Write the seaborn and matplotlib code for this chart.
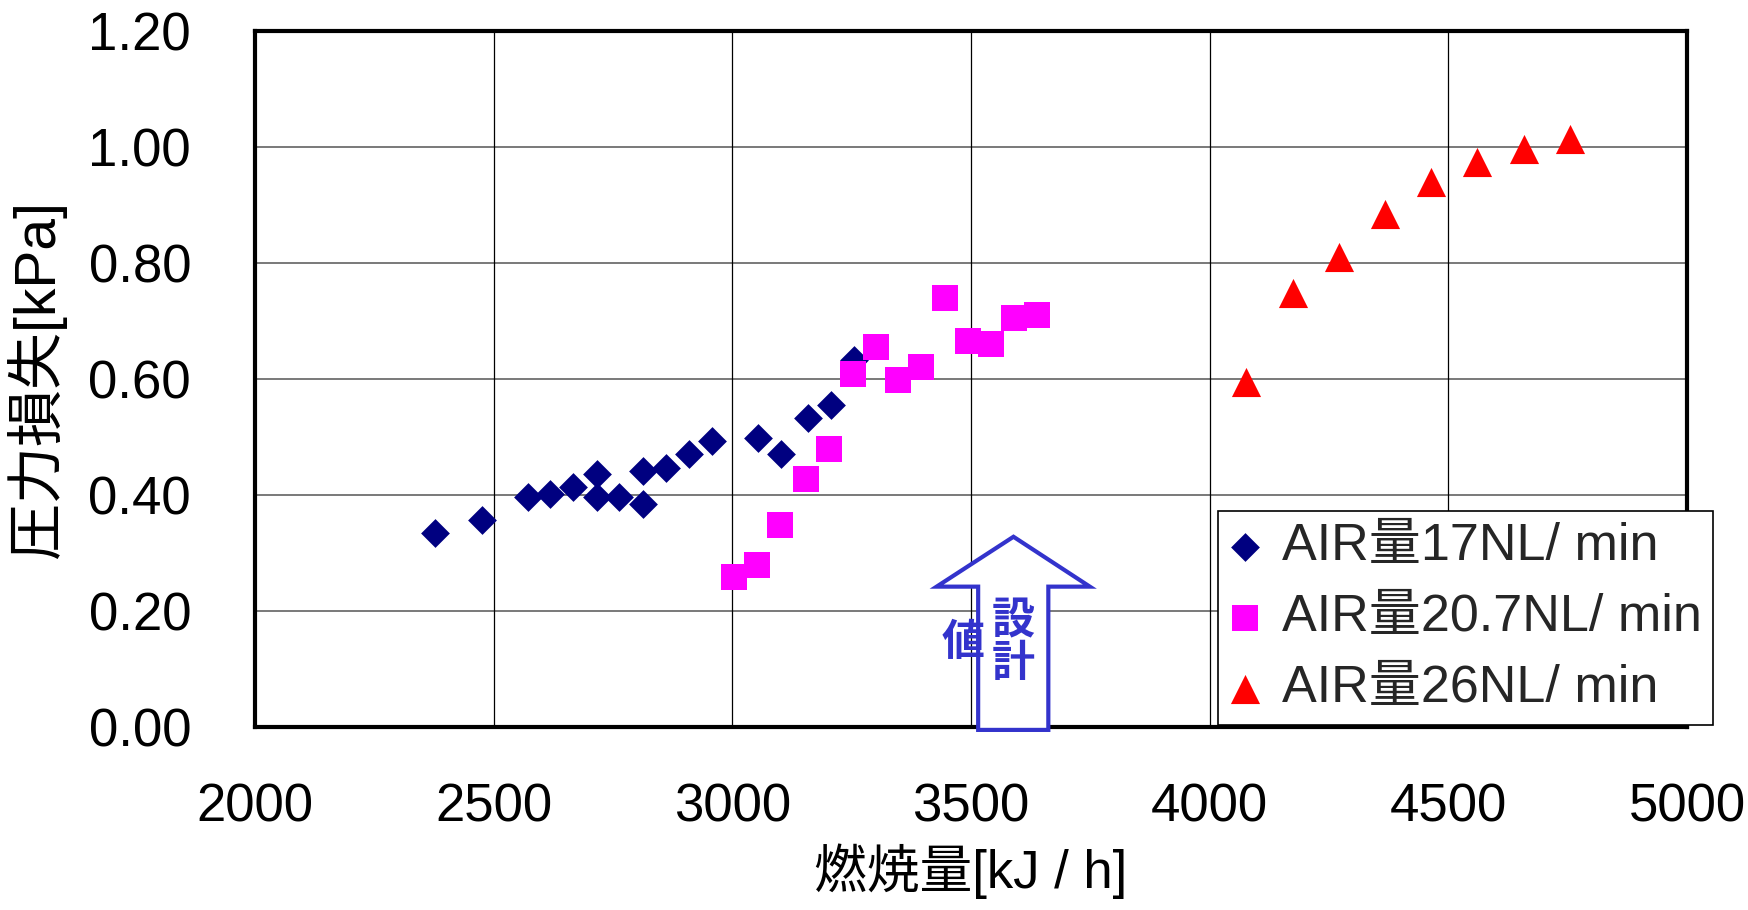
import numpy as np
import pandas as pd
import matplotlib
matplotlib.use("Agg")
import matplotlib.pyplot as plt
from matplotlib.patches import Polygon
import seaborn as sns

# ---- data ----
s1_label = "AIR量17NL/ min"
s1_x = [2377, 2475, 2571, 2619, 2667, 2716, 2716, 2763, 2813, 2813, 2861, 2909, 2957, 3054, 3103, 3158, 3206, 3255]
s1_y = [0.334, 0.357, 0.397, 0.402, 0.413, 0.437, 0.396, 0.397, 0.442, 0.385, 0.447, 0.470, 0.493, 0.499, 0.470, 0.533, 0.555, 0.632]

s2_label = "AIR量20.7NL/ min"
s2_x = [3003, 3051, 3100, 3155, 3203, 3252, 3300, 3348, 3396, 3445, 3493, 3541, 3590, 3638]
s2_y = [0.258, 0.280, 0.348, 0.428, 0.479, 0.609, 0.655, 0.598, 0.620, 0.739, 0.666, 0.660, 0.705, 0.711]

s3_label = "AIR量26NL/ min"
s3_x = [4077, 4174, 4271, 4368, 4464, 4561, 4658, 4754]
s3_y = [0.595, 0.748, 0.810, 0.884, 0.940, 0.974, 0.997, 1.014]

x_ticks = [2000, 2500, 3000, 3500, 4000, 4500, 5000]
y_ticks = [0.0, 0.2, 0.4, 0.6, 0.8, 1.0, 1.2]
y_ticklabels = ["0.00", "0.20", "0.40", "0.60", "0.80", "1.00", "1.20"]
x_label = "燃焼量[kJ / h]"
y_label = "圧力損失[kPa]"

sns.set_theme(style="white")
plt.rcParams["font.family"] = ["Liberation Sans", "Noto Sans CJK JP", "DejaVu Sans"]

W, H = 1748, 910
fig = plt.figure(figsize=(W / 100, H / 100), dpi=100)
ax = fig.add_axes([255 / W, 1 - 727 / H, (1687 - 255) / W, (727 - 31) / H])

# gridlines
for yv in y_ticks[1:-1]:
    ax.axhline(yv, color="#6e6e6e", lw=1.3, zorder=0)
for xv in x_ticks[1:-1]:
    ax.axvline(xv, color="black", lw=0.9, zorder=0)

df1 = pd.DataFrame({"x": s1_x, "y": s1_y})
df2 = pd.DataFrame({"x": s2_x, "y": s2_y})
df3 = pd.DataFrame({"x": s3_x, "y": s3_y})

sns.scatterplot(data=df1, x="x", y="y", ax=ax, marker="D", color="#000080",
                s=215, linewidth=0, label=s1_label, zorder=3)
sns.scatterplot(data=df2, x="x", y="y", ax=ax, marker="s", color="#FF00FF",
                s=350, linewidth=0, label=s2_label, zorder=4)
sns.scatterplot(data=df3, x="x", y="y", ax=ax, marker="^", color="#FF0000",
                s=440, linewidth=0, label=s3_label, zorder=4)

ax.set_xlim(2000, 5000)
ax.set_ylim(0, 1.2)
ax.set_xticks(x_ticks)
ax.set_yticks(y_ticks)
ax.set_yticklabels(y_ticklabels)
ax.tick_params(axis="both", length=0, labelsize=38, colors="black")
ax.tick_params(axis="x", pad=40)
ax.tick_params(axis="y", pad=46)

for sp in ax.spines.values():
    sp.set_visible(True)
    sp.set_color("black")
    sp.set_linewidth(3)

ax.set_xlabel(x_label, fontsize=38, labelpad=8, color="black")
ax.set_ylabel(y_label, fontsize=41, labelpad=16, color="black")

# design-value arrow annotation
arrow_pts = [(3515, -0.005), (3515, 0.242), (3428, 0.242), (3589, 0.328),
             (3749, 0.242), (3662, 0.242), (3662, -0.005)]
ax.add_patch(Polygon(arrow_pts, closed=True, facecolor="white", edgecolor="#3333CC",
                     lw=3, zorder=5, clip_on=False))
ax.text(3589, 0.184, "設", color="#3333CC", fontsize=31, fontweight="bold",
        ha="center", va="center", zorder=6, family=["Noto Sans CJK JP"])
ax.text(3589, 0.110, "計", color="#3333CC", fontsize=31, fontweight="bold",
        ha="center", va="center", zorder=6, family=["Noto Sans CJK JP"])
ax.text(3483, 0.147, "値", color="#3333CC", fontsize=31, fontweight="bold",
        ha="center", va="center", zorder=6, family=["Noto Sans CJK JP"])

leg = ax.legend(loc="upper left", bbox_to_anchor=(1218 / W, 1 - 511 / H),
                bbox_transform=fig.transFigure, borderaxespad=0, fontsize=37.5,
                frameon=True, fancybox=False, shadow=False, framealpha=1,
                handlelength=0.6, handletextpad=0.4, borderpad=0.22,
                labelspacing=0.42, markerscale=1.0)
leg.get_frame().set_edgecolor("black")
leg.get_frame().set_linewidth(1.2)
leg.set_zorder(10)

fig.savefig("out.png", dpi=100)
